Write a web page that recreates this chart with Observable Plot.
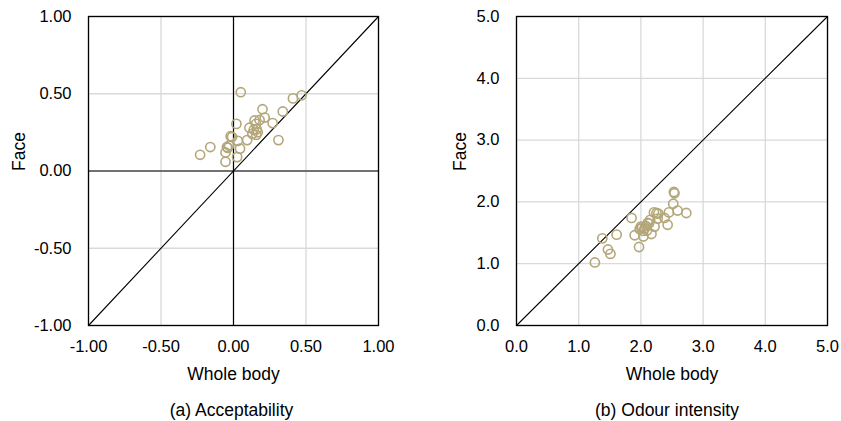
<!DOCTYPE html>
<html>
<head>
<meta charset="utf-8">
<script src="https://cdn.jsdelivr.net/npm/d3@7"></script>
<script src="https://cdn.jsdelivr.net/npm/@observablehq/plot@0.6"></script>
<style>
  html, body { margin: 0; padding: 0; background: #fff; }
  #wrap { display: flex; width: 841px; height: 421px; }
  svg { font-family: "Liberation Sans", Arial, sans-serif; }
</style>
</head>
<body>
<div id="wrap"></div>
<script>
// (a) Acceptability
const accTicks = [-1, -0.5, 0, 0.5, 1];
const accWhole = [0.05, 0.41, 0.47, 0.20, 0.34, 0.215, 0.145, 0.18, 0.27, 0.02, 0.11, 0.155, 0.14, 0.167, 0.13, 0.157, 0.16, 0.094, 0.31, 0.03, -0.02, -0.01, -0.045, -0.16, -0.23, -0.055, 0.045, -0.055, 0.025, -0.03, -0.04];
const accFace  = [0.51, 0.47, 0.49, 0.40, 0.385, 0.346, 0.327, 0.33, 0.31, 0.305, 0.28, 0.305, 0.267, 0.251, 0.24, 0.234, 0.27, 0.20, 0.20, 0.195, 0.225, 0.22, 0.155, 0.155, 0.105, 0.12, 0.145, 0.06, 0.09, 0.165, 0.15];
// (b) Odour intensity
const odTicks = [0, 1, 2, 3, 4, 5];
const odWhole = [2.54, 2.53, 2.52, 2.59, 2.73, 2.45, 2.21, 2.28, 2.25, 2.38, 2.27, 1.85, 2.43, 2.22, 2.15, 2.11, 2.13, 2.02, 1.98, 2.06, 2.10, 2.04, 2.17, 2.04, 1.90, 1.61, 1.38, 1.47, 1.51, 1.97, 1.26, 2.00, 2.08];
const odFace  = [2.14, 2.16, 1.97, 1.86, 1.82, 1.83, 1.83, 1.81, 1.82, 1.74, 1.73, 1.74, 1.63, 1.60, 1.71, 1.66, 1.65, 1.59, 1.56, 1.57, 1.54, 1.53, 1.48, 1.44, 1.46, 1.47, 1.41, 1.23, 1.16, 1.27, 1.02, 1.60, 1.61];

const xLabel = "Whole body";
const yLabel = "Face";
const captions = ["(a) Acceptability", "(b) Odour intensity"];

const ptColor = "#b3a77a";
const gridColor = "#d9d9d9";

function panel({ticks, xs, ys, fmt, width, marginLeft, marginRight, zeroLines, caption, capDx, yLabDx}) {
  const pts = xs.map((x, i) => ({x, y: ys[i]}));
  const lo = ticks[0], hi = ticks[ticks.length - 1];
  const diag = [lo, hi];
  const marks = [
    Plot.gridX(ticks, {stroke: gridColor, strokeOpacity: 1, strokeWidth: 1.3}),
    Plot.gridY(ticks, {stroke: gridColor, strokeOpacity: 1, strokeWidth: 1.3}),
  ];
  if (zeroLines) {
    marks.push(Plot.ruleX([0], {stroke: "black", strokeWidth: 1.2}));
    marks.push(Plot.ruleY([0], {stroke: "black", strokeWidth: 1.2}));
  }
  marks.push(
    Plot.line(diag, {x: d => d, y: d => d, stroke: "black", strokeWidth: 1.1}),
    Plot.dot(pts, {x: "x", y: "y", r: 4.6, stroke: ptColor, strokeWidth: 1.6, fill: "none"}),
    Plot.frame({stroke: "black", strokeWidth: 1.3}),
    Plot.axisX(ticks, {tickSize: 0, tickPadding: 15, tickFormat: fmt, fontSize: 16.5, fill: "#000", label: null}),
    Plot.axisY(ticks, {tickSize: 0, tickPadding: 17, tickFormat: fmt, fontSize: 16.5, fill: "#000", label: null}),
    Plot.text([xLabel], {frameAnchor: "bottom", dy: 54, lineAnchor: "bottom", fontSize: 17.5, fill: "#000"}),
    Plot.text([yLabel], {frameAnchor: "left", rotate: -90, dx: yLabDx, lineAnchor: "top", fontSize: 17.5, fill: "#000"}),
    Plot.text([caption], {frameAnchor: "bottom", dy: 90, dx: capDx, lineAnchor: "bottom", fontSize: 17.5, fill: "#000"})
  );
  return Plot.plot({
    width, height: 421,
    marginLeft, marginRight, marginTop: 16, marginBottom: 96,
    x: {domain: [lo, hi]},
    y: {domain: [lo, hi]},
    style: {fontFamily: '"Liberation Sans", Arial, sans-serif', background: "white"},
    marks
  });
}

const wrap = document.getElementById("wrap");
wrap.appendChild(panel({
  ticks: accTicks, xs: accWhole, ys: accFace, fmt: d => d.toFixed(2),
  width: 420, marginLeft: 88, marginRight: 42, zeroLines: true,
  caption: captions[0], capDx: -2, yLabDx: -76
}));
wrap.appendChild(panel({
  ticks: odTicks, xs: odWhole, ys: odFace, fmt: d => d.toFixed(1),
  width: 421, marginLeft: 96, marginRight: 14, zeroLines: false,
  caption: captions[1], capDx: -5, yLabDx: -63
}));
</script>
</body>
</html>
